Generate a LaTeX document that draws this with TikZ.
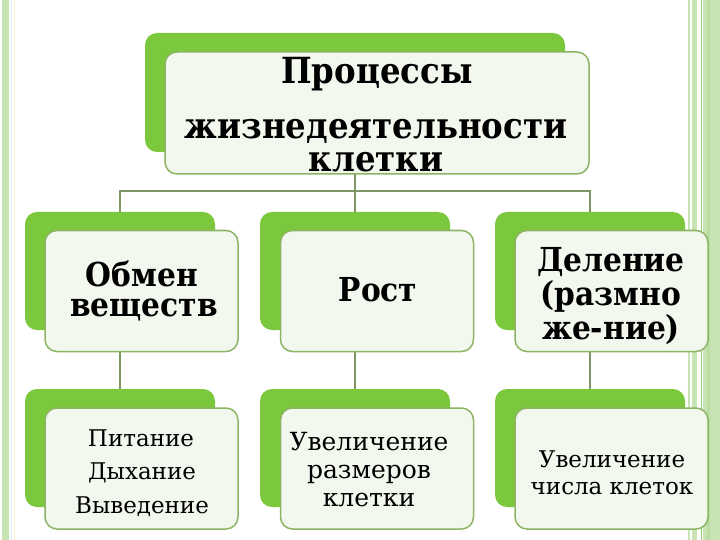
\documentclass[tikz,border=0pt]{standalone}
\usepackage{fontspec}
\newfontfamily\tnr{DejaVu Serif}
\newfontfamily\tnrc{DejaVu Serif Condensed}
\usetikzlibrary{backgrounds}
\definecolor{gback}{RGB}{124,200,60}
\definecolor{gfill}{RGB}{243,248,238}
\definecolor{gline}{RGB}{140,180,100}
\definecolor{linkc}{RGB}{125,150,100}
\definecolor{frameA}{RGB}{200,228,180}
\definecolor{frameB}{RGB}{150,205,120}
\definecolor{frameC}{RGB}{185,220,160}
\begin{document}
\begin{tikzpicture}[x=1pt,y=-1pt,
  backbox/.style={fill=gback, rounded corners=12pt, inner sep=0pt, minimum width=190pt, minimum height=118pt},
  frontbox/.style={fill=gfill, draw=gline, line width=1.5pt, rounded corners=12pt, inner sep=0pt, minimum width=193pt, minimum height=121pt},
  link/.style={draw=linkc, line width=1.5pt},
  bigtxt/.style={font=\tnrc\fontsize{36}{44}\selectfont\bfseries, anchor=base, inner sep=0pt},
  midtxt/.style={font=\tnrc\fontsize{33}{40}\selectfont\bfseries, anchor=base, inner sep=0pt},
  lowtxt/.style={font=\tnr\fontsize{23}{30}\selectfont, anchor=base, inner sep=0pt},
  lowtxtb/.style={font=\tnr\fontsize{25}{30}\selectfont, anchor=base, inner sep=0pt}]
\useasboundingbox (0,0) rectangle (720,540);
% top
\node[backbox, minimum width=420pt, minimum height=119pt] (topB) at (355,92.5) {};
\node[frontbox, minimum width=424pt, minimum height=122pt] (topF) at (377,113) {};
% middle row
\node[backbox] (m1B) at (120,271) {};
\node[frontbox] (m1F) at (141.5,291) {};
\node[backbox] (m2B) at (355,271) {};
\node[frontbox] (m2F) at (377,291) {};
\node[backbox] (m3B) at (590,271) {};
\node[frontbox] (m3F) at (611.5,291) {};
% bottom row
\node[backbox] (b1B) at (120,448) {};
\node[frontbox] (b1F) at (141.5,468.5) {};
\node[backbox] (b2B) at (355,448) {};
\node[frontbox] (b2F) at (377,468.5) {};
\node[backbox] (b3B) at (590,448) {};
\node[frontbox] (b3F) at (611.5,468.5) {};
% texts
\node[bigtxt] (t1) at (377,84) {Процессы};
\node[bigtxt] (t2) at (376,139) {жизнедеятельности};
\node[bigtxt] (t3) at (376,172) {клетки};
\node[midtxt] (m1a) at (142,286) {Обмен};
\node[midtxt] (m1b) at (144,316) {веществ};
\node[midtxt] (m2a) at (378,301) {Рост};
\node[midtxt] (m3a) at (611,271) {Деление};
\node[midtxt] (m3b) at (611,305) {(размно};
\node[midtxt] (m3c) at (611,339) {же-ние)};
\node[lowtxt] (b1a) at (141,446) {Питание};
\node[lowtxt] (b1b) at (142,479) {Дыхание};
\node[lowtxt] (b1c) at (142,513) {Выведение};
\node[lowtxtb] (b2a) at (369,450) {Увеличение};
\node[lowtxtb] (b2b) at (369,478) {размеров};
\node[lowtxtb] (b2c) at (369,506) {клетки};
\node[lowtxt] (b3a) at (612,467) {Увеличение};
\node[lowtxt] (b3b) at (612,494) {числа клеток};
\coordinate (bus) at (355,191);
\begin{scope}[on background layer]
  \fill[white] (0,0) rectangle (720,540);
  \fill[frameA] (2,0) rectangle (9,540);
  \draw[color={rgb,255:red,215;green,240;blue,240}, line width=1pt] (11,0) -- (11,540);
  \draw[color={rgb,255:red,250;green,238;blue,205}, line width=1pt] (14,0) -- (14,540);
  \fill[frameA] (688,0) rectangle (690,540);
  \fill[frameA] (692,0) rectangle (697,540);
  \draw[frameB, line width=1.5pt] (701.5,0) -- (701.5,540);
  \fill[frameA] (703,0) rectangle (720,540);
  \fill[frameC] (707,0) rectangle (710,540);
  \draw[link] (topB.center) -- (bus);
  \draw[link] (m1B.north) |- (bus) -| (m3B.north);
  \draw[link] (bus) -- (m2B.north);
  \draw[link] (m1B.center) -- (b1B.north);
  \draw[link] (m2B.center) -- (b2B.north);
  \draw[link] (m3B.center) -- (b3B.north);
\end{scope}
\end{tikzpicture}
\end{document}
